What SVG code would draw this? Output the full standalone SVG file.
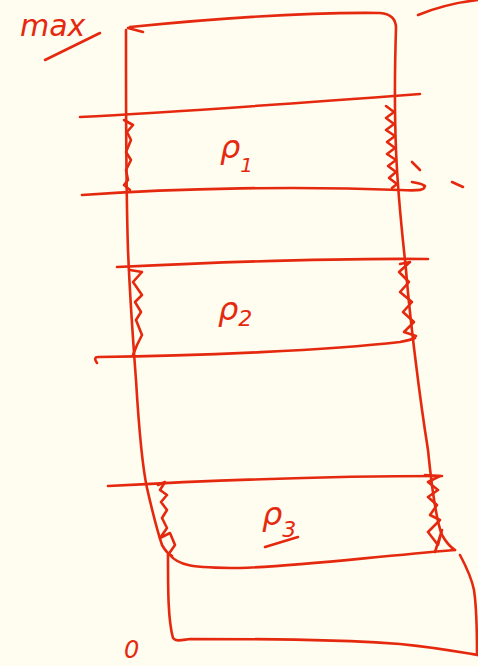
<svg xmlns="http://www.w3.org/2000/svg" width="478" height="666" viewBox="0 0 478 666">
<style>
.s{fill:none;stroke:#E5290F;stroke-width:2.6;stroke-linecap:round;stroke-linejoin:round}
.t{fill:#E5290F;font-family:"DejaVu Sans",sans-serif;font-style:italic}
</style>
<rect width="478" height="666" fill="#FFFCF0"/>
<g id="outline">
<path class="s" d="M128 28 L143 32 M130 27 C200 20 300 12 380 13 C392 14 396 20 396 28 C395 60 394 100 396 150 C398 200 403 240 406 270 C410 320 420 400 428 450 C432 490 436 520 442 535 C446 542 450 547 455 550"/>
<path class="s" d="M126 62 L126 30 M126 50 C126 120 126 190 128 250 C130 300 133 340 136 380 C139 430 142 465 147 488 C152 510 157 530 162 545 C166 552 170 555 172 556"/>
<path class="s" d="M170 555 C178 565 190 568 240 568 C300 566 360 558 455 550"/>
<path class="s" d="M168 555 C168 590 168 620 173 638 C176 642 182 640 190 639 C260 639 330 639 400 644 C440 648 460 652 478 655"/>
<path class="s" d="M460 555 C468 570 472 580 474 590 C477 610 477 630 477 655"/>
<path class="s" d="M418 15 C440 6 460 2 478 0"/>
</g>
<g id="layers">
<path class="s" d="M80 117 C180 112 300 103 420 94"/>
<path class="s" d="M82 195 C180 188 300 186 400 190 C420 191 426 190 424 186"/>
<path class="s" d="M117 267 C200 263 320 258 428 259"/>
<path class="s" d="M97 363 C94 359 95 357 98 357 C200 356 330 350 400 342 C410 340 413 339 415 338"/>
<path class="s" d="M108 486 C200 481 330 476 442 476"/>
</g>
<g id="springs">
<path class="s" d="M386 106 L394 112 L386 118 L394 124 L386 130 L395 136 L387 142 L395 148 L387 154 L396 160 L388 166 L396 172 L389 178 L397 184 L392 188"/>
<path class="s" d="M124 120 L133 125 L127 132 L131 140 L126 152 L131 160 L126 170 L128 180 L124 185 L130 190"/>
<path class="s" d="M130 270 L142 272 L133 282 L142 295 L135 302 L141 312 L136 320 L142 335 L137 345 L133 355"/>
<path class="s" d="M400 264 L410 262 L399 272 L409 282 L400 292 L412 302 L403 312 L414 322 L404 332 L416 336"/>
<path class="s" d="M158 485 L165 482 L160 490 L167 495 L161 502 L167 510 L162 518 L167 528 L160 538 L170 533 L175 545 L168 555"/>
<path class="s" d="M425 475 L440 476 L428 482 L438 490 L428 497 L437 505 L430 515 L440 520 L428 532 L438 545 L442 530 L435 552"/>
</g>
<g id="marks">
<path class="s" d="M412 162 L420 170 M412 182 C418 183 424 185 425 186 M452 182 L463 187"/>
<path class="s" d="M45 60 L100 33"/>
<path class="s" d="M265 547 L298 537"/>
</g>
<g id="labels">
<text class="t" x="20" y="36" font-size="30">max</text>
<text class="t" x="220" y="158" font-size="32">ρ<tspan font-size="20" dy="14">1</tspan></text>
<text class="t" x="218" y="320" font-size="32">ρ<tspan font-size="22" dy="6">2</tspan></text>
<text class="t" x="262" y="525" font-size="32">ρ<tspan font-size="22" dy="12">3</tspan></text>
<text class="t" x="124" y="658" font-size="24">0</text>
</g>
</svg>
